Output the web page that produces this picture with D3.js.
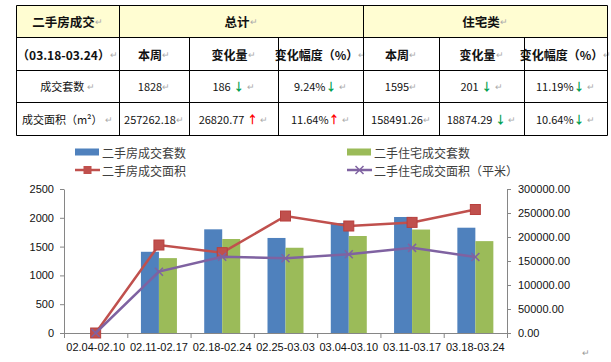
<!DOCTYPE html>
<html>
<head>
<meta charset="utf-8">
<script src="https://cdn.jsdelivr.net/npm/d3@7"></script>
<style>
  body { margin:0; background:#fff; }
  text { font-family:"Noto Sans CJK SC", "Liberation Sans", sans-serif; }
  .axis text { font-family:"Liberation Sans", Arial, sans-serif; font-size:11px; fill:#111; }
  .axis path, .axis line { stroke:#868686; }
</style>
</head>
<body>
<div id="chart"></div>
<script>
// table data
const headTop = ['二手房成交', '总计', '住宅类']
const headSub = ['（03.18-03.24）', '本周', '变化量', '变化幅度（%）', '本周', '变化量', '变化幅度（%）']
const rowNames = ['成交套数', '成交面积（m²）']
const rowCells = [
  [['1828',''], ['186 ','down'], ['9.24%','down'], ['1595',''], ['201 ','down'], ['11.19%','down']],
  [['257262.18',''], ['26820.77 ','up'], ['11.64%','up'], ['158491.26',''], ['18874.29 ','down'], ['10.64%','down']]
]

// chart data
const categories = ['02.04-02.10','02.11-02.17','02.18-02.24','02.25-03.03','03.04-03.10','03.11-03.17','03.18-03.24']
const totalCount = [0, 1410, 1800, 1650, 1910, 2014, 1828]
const residCount = [0, 1300, 1632, 1480, 1684, 1796, 1595]
const totalArea = [0, 183300, 167400, 243700, 222900, 230441.41, 257262.18]
const residArea = [0, 127800, 159000, 155600, 163900, 177365.55, 158491.26]
const leftTicks = [0, 500, 1000, 1500, 2000, 2500]
const rightTicks = [0, 50000, 100000, 150000, 200000, 250000, 300000]
const legendNames = ['二手房成交套数', '二手住宅成交套数', '二手房成交面积', '二手住宅成交面积（平米）']

const colors = {blue:'#4F81BD', green:'#9BBB59', red:'#C0504D', purple:'#7F62A1'}

const svg = d3.select('#chart').append('svg')
  .attr('width', 611).attr('height', 362)

// ---------- Table ----------
const colX = [16, 119, 189, 278, 363, 439, 524, 607]
const rowY = [5, 37, 70, 102, 135]
const tbl = svg.append('g')

tbl.append('rect')
  .attr('x', colX[0]).attr('y', rowY[0])
  .attr('width', colX[7]-colX[0]).attr('height', rowY[1]-rowY[0])
  .attr('fill', '#FFFDD2')

function cellText(x, y, parts, opts){
  const t = tbl.append('text')
    .attr('x', x).attr('y', y)
    .attr('text-anchor', 'middle')
    .attr('dominant-baseline', 'central')
    .attr('font-size', opts.size)
    .attr('font-weight', opts.bold ? 'bold' : 'normal')
    .attr('fill', '#111')
  parts.forEach(p => {
    t.append('tspan').text(p.t)
      .attr('fill', p.c || '#111')
      .attr('font-size', p.s || null)
      .attr('font-weight', p.w || null)
  })
}
const mark = {t:'↵', c:'#aaa', s:9, w:'normal'}
const arrow = d => d === 'up' ? {t:'↑', c:'#FF0000', w:'bold'} : {t:'↓', c:'#00A050', w:'bold'}

// header row 1
const spans = [[0,1],[1,4],[4,7]]
headTop.forEach((h, i) => {
  const cx = (colX[spans[i][0]] + colX[spans[i][1]]) / 2
  cellText(cx, (rowY[0]+rowY[1])/2, [{t:h}, mark], {size:12.5, bold:true})
})
// header row 2
headSub.forEach((h, i) => {
  cellText((colX[i]+colX[i+1])/2, (rowY[1]+rowY[2])/2, [{t:h}, mark], {size:12, bold:true})
})
// data rows
rowNames.forEach((n, r) => {
  const cy = (rowY[r+2]+rowY[r+3])/2
  cellText((colX[0]+colX[1])/2, cy, [{t:n}, {t:' '}, mark], {size:11})
  rowCells[r].forEach((c, i) => {
    const parts = [{t:c[0]}]
    if (c[1]) { parts.push(arrow(c[1])); parts.push({t:' '}) }
    parts.push(mark)
    cellText((colX[i+1]+colX[i+2])/2, cy, parts, {size:11})
  })
})

// grid lines
const lines = []
rowY.forEach(y => lines.push([colX[0], y, colX[7], y]))
colX.forEach((x, i) => {
  if (i === 0 || i === 7 || i === 1 || i === 4) lines.push([x, rowY[0], x, rowY[4]])
  else lines.push([x, rowY[1], x, rowY[4]])
})
tbl.selectAll('line.grid').data(lines).join('line')
  .attr('x1', d => d[0]+0.5).attr('y1', d => d[1]+0.5)
  .attr('x2', d => d[2]+0.5).attr('y2', d => d[3]+0.5)
  .attr('stroke', '#000').attr('stroke-width', 1)

// ---------- Chart ----------
const plot = {left:64, right:507, top:189, bottom:333}

const xScale = d3.scaleBand()
  .domain(categories)
  .range([plot.left, plot.right])
const barW = 18
const xInner = d3.scaleBand()
  .domain(['total','resid'])
  .range([xScale.bandwidth()/2 - barW, xScale.bandwidth()/2 + barW])
const yLeft = d3.scaleLinear().domain([0, 2500]).range([plot.bottom, plot.top])
const yRight = d3.scaleLinear().domain([0, 300000]).range([plot.bottom, plot.top])

const ctr = svg.append('g')

// bars
const barSeries = [
  {key:'total', vals:totalCount, color:colors.blue},
  {key:'resid', vals:residCount, color:colors.green}
]
barSeries.forEach(s => {
  ctr.append('g').selectAll('rect')
    .data(categories.map((c, i) => ({c, v:s.vals[i]})))
    .join('rect')
    .attr('x', d => xScale(d.c) + xInner(s.key))
    .attr('y', d => yLeft(d.v))
    .attr('width', xInner.bandwidth())
    .attr('height', d => plot.bottom - yLeft(d.v))
    .attr('fill', s.color)
})

// axes
const xAxisGroup = ctr.append('g')
  .attr('class', 'axis')
  .attr('transform', `translate(0, ${plot.bottom})`)
  .call(d3.axisBottom(xScale).tickSize(0).tickPadding(10))
xAxisGroup.select('.domain').remove()
xAxisGroup.append('line')
  .attr('x1', plot.left - 4).attr('x2', plot.right)
  .attr('y1', 0.5).attr('y2', 0.5)
xAxisGroup.selectAll('line.bt')
  .data(d3.range(categories.length + 1))
  .join('line').attr('class', 'bt')
  .attr('x1', i => plot.left + i * xScale.step() + 0.5)
  .attr('x2', i => plot.left + i * xScale.step() + 0.5)
  .attr('y1', 0).attr('y2', 5)

ctr.append('g')
  .attr('class', 'axis')
  .attr('transform', `translate(${plot.left}, 0)`)
  .call(d3.axisLeft(yLeft).tickValues(leftTicks).tickSize(4).tickSizeOuter(0).tickPadding(6)
    .tickFormat(d3.format('d')))

ctr.append('g')
  .attr('class', 'axis')
  .attr('transform', `translate(${plot.right}, 0)`)
  .call(d3.axisRight(yRight).tickValues(rightTicks).tickSize(4).tickSizeOuter(0).tickPadding(7)
    .tickFormat(d3.format('.2f')))

// lines
const cx = c => xScale(c) + xScale.bandwidth()/2
const lineGen = d3.line().x(d => cx(d.c)).y(d => yRight(d.v))

const areaSeries = [
  {vals:totalArea, color:colors.red, marker:'square'},
  {vals:residArea, color:colors.purple, marker:'x'}
]
areaSeries.forEach(s => {
  const pts = categories.map((c, i) => ({c, v:s.vals[i]}))
  ctr.append('path')
    .datum(pts)
    .attr('d', lineGen)
    .attr('fill', 'none')
    .attr('stroke', s.color)
    .attr('stroke-width', 2.5)
  const m = ctr.append('g')
  if (s.marker === 'square') {
    m.selectAll('rect').data(pts).join('rect')
      .attr('x', d => cx(d.c) - 5).attr('y', d => yRight(d.v) - 5)
      .attr('width', 10).attr('height', 10)
      .attr('fill', s.color).attr('stroke', '#B8403D')
  } else {
    m.selectAll('path').data(pts).join('path')
      .attr('d', d => {
        const x = cx(d.c), y = yRight(d.v)
        return `M${x-4},${y-4}L${x+4},${y+4}M${x-4},${y+4}L${x+4},${y-4}`
      })
      .attr('stroke', s.color).attr('stroke-width', 1.5)
  }
})

// legend
const leg = svg.append('g').attr('font-size', 12).attr('fill', '#404040')
const legItems = [
  {x:75, y:152, name:legendNames[0], type:'bar', color:colors.blue},
  {x:347, y:152, name:legendNames[1], type:'bar', color:colors.green},
  {x:75, y:170, name:legendNames[2], type:'square', color:colors.red},
  {x:347, y:170, name:legendNames[3], type:'x', color:colors.purple}
]
legItems.forEach(d => {
  if (d.type === 'bar') {
    leg.append('rect').attr('x', d.x).attr('y', d.y - 3.5).attr('width', 24).attr('height', 7).attr('fill', d.color)
  } else {
    leg.append('line').attr('x1', d.x).attr('x2', d.x + 25).attr('y1', d.y).attr('y2', d.y)
      .attr('stroke', d.color).attr('stroke-width', 2.5)
    const mx = d.x + 12.5
    if (d.type === 'square') {
      leg.append('rect').attr('x', mx - 4).attr('y', d.y - 4).attr('width', 8).attr('height', 8).attr('fill', d.color)
    } else {
      leg.append('path').attr('d', `M${mx-4},${d.y-4}L${mx+4},${d.y+4}M${mx-4},${d.y+4}L${mx+4},${d.y-4}`)
        .attr('stroke', d.color).attr('stroke-width', 1.5)
    }
  }
  leg.append('text').attr('x', d.x + 27).attr('y', d.y)
    .attr('dominant-baseline', 'central').text(d.name)
})

// paragraph mark
svg.append('text').attr('x', 582).attr('y', 356).attr('font-size', 9).attr('fill', '#999').text('↵')
</script>
</body>
</html>
